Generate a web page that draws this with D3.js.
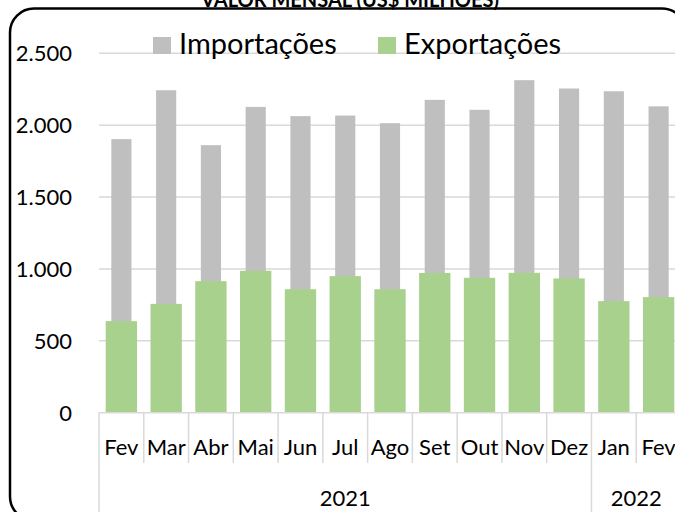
<!DOCTYPE html>
<html>
<head>
<meta charset="utf-8">
<script src="https://cdn.jsdelivr.net/npm/d3@7"></script>
<style>
  html, body { margin: 0; padding: 0; background: #fff; }
  svg { display: block; font-family: Lato, "Open Sans", sans-serif; }
</style>
</head>
<body>
<script>
// data
var months = ["Fev", "Mar", "Abr", "Mai", "Jun", "Jul", "Ago", "Set", "Out", "Nov", "Dez", "Jan", "Fev"];
var years = ["2021", "2021", "2021", "2021", "2021", "2021", "2021", "2021", "2021", "2021", "2021", "2022", "2022"];
var importacoes = [1903, 2243, 1861, 2127, 2063, 2067, 2014, 2176, 2107, 2313, 2255, 2236, 2131];
var exportacoes = [637, 757, 915, 987, 859, 950, 859, 972, 938, 973, 934, 776, 804];
var yTicks = [0, 500, 1000, 1500, 2000, 2500];
var seriesNames = ["Importações", "Exportações"];
var colors = ["#BFBFBF", "#A9D18E"];

var width = 675, height = 512;

var svg = d3.select("body").append("svg")
    .attr("width", width)
    .attr("height", height);

var keys = months.map(function (m, i) { return i; });

var x = d3.scaleBand()
    .domain(keys)
    .range([99, 681])
    .padding(0);

var y = d3.scaleLinear()
    .domain([0, 2500])
    .range([412.7, 53.3]);

var ptBR = d3.formatLocale({ decimal: ",", thousands: ".", grouping: [3], currency: ["R$", ""] });
var fmt = ptBR.format(",d");

// gridlines
svg.append("g")
    .selectAll("line")
    .data(yTicks.slice(1))
    .enter().append("line")
    .attr("x1", 99).attr("x2", 681)
    .attr("y1", function (d) { return y(d); })
    .attr("y2", function (d) { return y(d); })
    .style("stroke", "#D9D9D9")
    .style("stroke-width", 1.5);

// y labels
svg.append("g")
    .selectAll("text")
    .data(yTicks)
    .enter().append("text")
    .attr("x", 72)
    .attr("y", function (d) { return y(d); })
    .attr("dy", "0.36em")
    .attr("text-anchor", "end")
    .style("font-size", "22px")
    .style("fill", "#000")
    .text(function (d) { return fmt(d); });

// importacoes (behind, narrow)
var bw = x.bandwidth();
svg.append("g")
    .selectAll("rect")
    .data(importacoes)
    .enter().append("rect")
    .attr("x", function (d, i) { return x(i) + bw * 0.275; })
    .attr("width", bw * 0.45)
    .attr("y", function (d) { return y(d); })
    .attr("height", function (d) { return y(0) - y(d); })
    .style("fill", colors[0]);

// exportacoes (front, wide)
svg.append("g")
    .selectAll("rect")
    .data(exportacoes)
    .enter().append("rect")
    .attr("x", function (d, i) { return x(i) + bw * 0.15; })
    .attr("width", bw * 0.7)
    .attr("y", function (d) { return y(d); })
    .attr("height", function (d) { return y(0) - y(d); })
    .style("fill", colors[1]);

// category axis (two level)
var axis = svg.append("g").style("stroke", "#D9D9D9").style("stroke-width", 1.5);
axis.append("line")
    .attr("x1", 99).attr("x2", 681)
    .attr("y1", y(0)).attr("y2", y(0));

keys.forEach(function (k, i) {
    var bottom = (i === 0 || years[i] !== years[i - 1]) ? 512 : 463;
    axis.append("line")
        .attr("x1", x(k)).attr("x2", x(k))
        .attr("y1", y(0)).attr("y2", bottom);
});

svg.append("g")
    .selectAll("text")
    .data(months)
    .enter().append("text")
    .attr("x", function (d, i) { return x(i) + bw / 2; })
    .attr("y", 455)
    .attr("text-anchor", "middle")
    .style("font-size", "22px")
    .text(function (d) { return d; });

var yearGroups = d3.groups(keys, function (k) { return years[k]; });
svg.append("g")
    .selectAll("text")
    .data(yearGroups)
    .enter().append("text")
    .attr("x", function (g) {
        var a = x(g[1][0]), b = x(g[1][g[1].length - 1]) + bw;
        return (a + b) / 2;
    })
    .attr("y", 506)
    .attr("text-anchor", "middle")
    .style("font-size", "22px")
    .text(function (g) { return g[0]; });

// legend
var legend = svg.append("g");
var legX = [153, 378];
seriesNames.forEach(function (name, i) {
    legend.append("rect")
        .attr("x", legX[i]).attr("y", 37)
        .attr("width", 18).attr("height", 17)
        .style("fill", colors[i]);
    legend.append("text")
        .attr("x", legX[i] + 26)
        .attr("y", 54)
        .style("font-size", "29px")
        .text(name);
});

// border
svg.append("rect")
    .attr("x", 10).attr("y", 8.5)
    .attr("width", 676).attr("height", 512)
    .attr("rx", 24).attr("ry", 24)
    .style("fill", "none")
    .style("stroke", "#000")
    .style("stroke-width", 2.5);

// title (cut at top)
svg.append("text")
    .attr("x", 350)
    .attr("y", 7)
    .attr("text-anchor", "middle")
    .style("font-size", "20px")
    .style("font-weight", "bold")
    .text("VALOR MENSAL (US$ MILHÕES)");
</script>
</body>
</html>
